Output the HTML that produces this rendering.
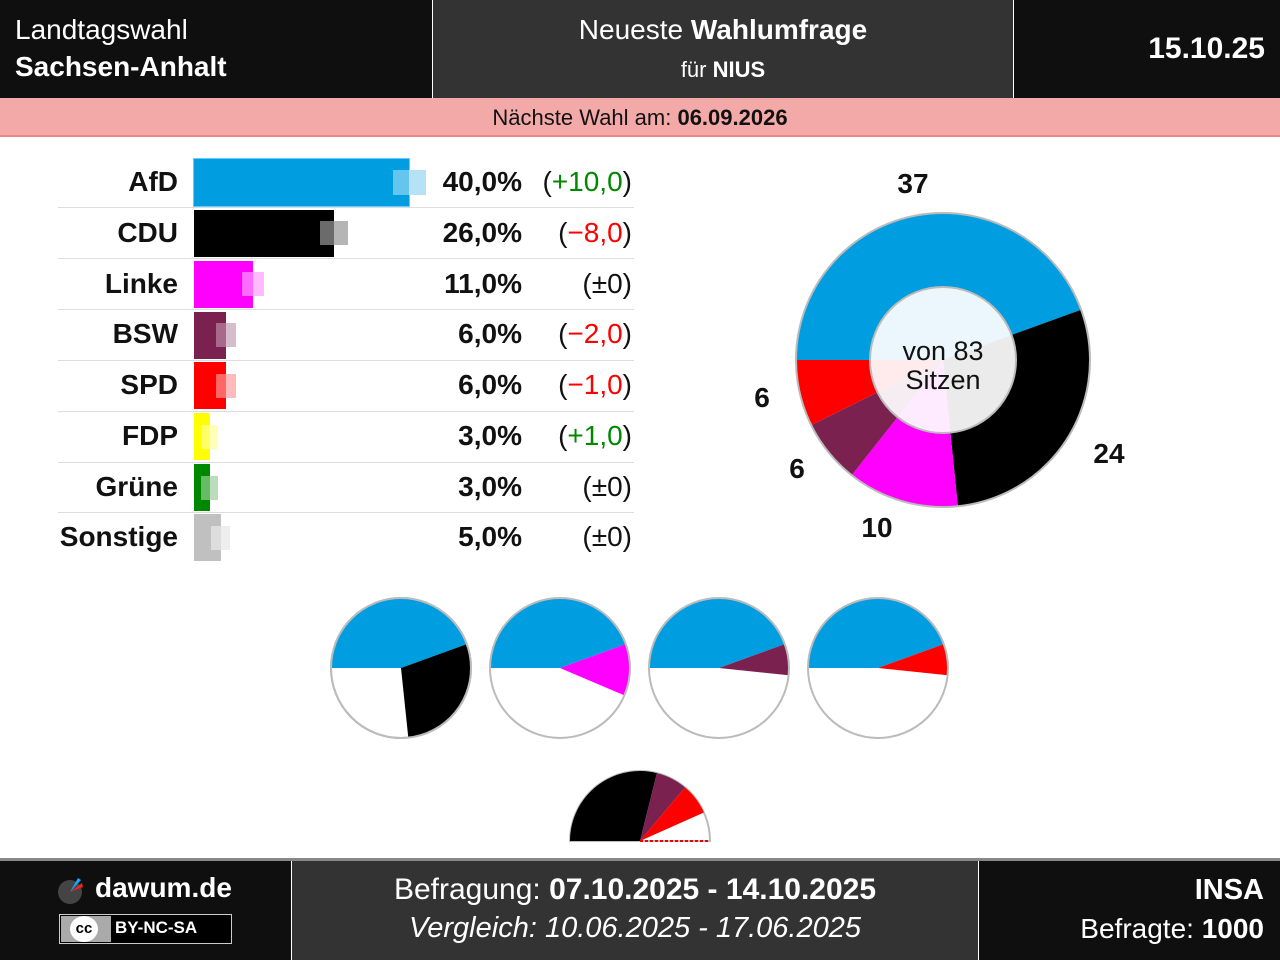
<!DOCTYPE html><html><head><meta charset="utf-8"><style>
body{margin:0;width:1280px;height:960px;background:#fff;font-family:"Liberation Sans",sans-serif;position:relative;overflow:hidden}
.a{position:absolute}
.w{color:#fff}
.lbl{position:absolute;right:1102px;font-size:28px;font-weight:bold;text-align:right;color:#111}
.pct{position:absolute;right:758px;font-size:28px;font-weight:bold;color:#111}
.chg{position:absolute;right:648px;font-size:28px;color:#111}
.hl{position:absolute;left:58px;width:576px;height:1px;background:#ddd}
</style></head><body>
<div class="a" style="left:0;top:0;width:432px;height:98px;background:#0f0f0f"></div>
<div class="a" style="left:433px;top:0;width:580px;height:98px;background:#333"></div>
<div class="a" style="left:1014px;top:0;width:266px;height:98px;background:#0f0f0f"></div>
<div class="a w" style="left:15px;top:14px;font-size:28px">Landtagswahl</div>
<div class="a w" style="left:15px;top:51px;font-size:28px;font-weight:bold">Sachsen-Anhalt</div>
<div class="a w" style="left:433px;width:580px;top:14px;font-size:28px;text-align:center">Neueste <b>Wahlumfrage</b></div>
<div class="a w" style="left:433px;width:580px;top:57px;font-size:22px;text-align:center">für <b>NIUS</b></div>
<div class="a w" style="right:15px;top:32px;font-size:30px;font-weight:bold">15.10.25</div>
<div class="a" style="left:0;top:98px;width:1280px;height:37px;background:#f4a9a9;border-bottom:2px solid #e88;"></div>
<div class="a" style="left:0;width:1280px;top:105px;font-size:22px;text-align:center;color:#111">Nächste Wahl am: <b>06.09.2026</b></div>

<div class="hl" style="top:207px"></div><div class="hl" style="top:258px"></div><div class="hl" style="top:309px"></div><div class="hl" style="top:360px"></div><div class="hl" style="top:411px"></div><div class="hl" style="top:462px"></div><div class="hl" style="top:512px"></div>

<div class="a" style="left:194px;top:159px;width:215px;height:47px;background:#009ee0;outline:1px solid #6cf"></div>
<div class="a" style="left:393px;top:170px;width:16px;height:25px;background:rgba(255,255,255,.4)"></div><div class="a" style="left:409px;top:170px;width:17px;height:25px;background:#b5e2f6"></div>
<div class="a" style="left:194px;top:210px;width:140px;height:47px;background:#000"></div>
<div class="a" style="left:320px;top:221px;width:14px;height:24px;background:#6b6b6b"></div><div class="a" style="left:334px;top:221px;width:14px;height:24px;background:#b5b5b5"></div>
<div class="a" style="left:194px;top:261px;width:59px;height:47px;background:#f0f"></div>
<div class="a" style="left:242px;top:272px;width:11px;height:24px;background:#ff6bff"></div><div class="a" style="left:253px;top:272px;width:11px;height:24px;background:#fbf"></div>
<div class="a" style="left:194px;top:312px;width:32px;height:47px;background:#7a2150"></div>
<div class="a" style="left:216px;top:323px;width:10px;height:24px;background:#a86a8a"></div><div class="a" style="left:226px;top:323px;width:10px;height:24px;background:#d7bccb"></div>
<div class="a" style="left:194px;top:362px;width:32px;height:47px;background:#f00"></div>
<div class="a" style="left:216px;top:374px;width:10px;height:24px;background:#f66"></div><div class="a" style="left:226px;top:374px;width:10px;height:24px;background:#fbb"></div>
<div class="a" style="left:194px;top:413px;width:16px;height:47px;background:#ff0"></div>
<div class="a" style="left:201px;top:425px;width:9px;height:24px;background:#ff6"></div><div class="a" style="left:210px;top:425px;width:8px;height:24px;background:#ffb"></div>
<div class="a" style="left:194px;top:464px;width:16px;height:47px;background:#080"></div>
<div class="a" style="left:201px;top:476px;width:9px;height:24px;background:#6b6"></div><div class="a" style="left:210px;top:476px;width:8px;height:24px;background:#bdb"></div>
<div class="a" style="left:194px;top:514px;width:27px;height:47px;background:#c0c0c0"></div>
<div class="a" style="left:211px;top:526px;width:10px;height:24px;background:#ddd"></div><div class="a" style="left:221px;top:526px;width:9px;height:24px;background:#eee"></div>

<div class="lbl" style="top:166px">AfD</div><div class="pct" style="top:166px">40,0%</div><div class="chg" style="top:166px">(<span style="color:#080">+10,0</span>)</div>
<div class="lbl" style="top:217px">CDU</div><div class="pct" style="top:217px">26,0%</div><div class="chg" style="top:217px">(<span style="color:#f00">−8,0</span>)</div>
<div class="lbl" style="top:268px">Linke</div><div class="pct" style="top:268px">11,0%</div><div class="chg" style="top:268px">(±0)</div>
<div class="lbl" style="top:318px">BSW</div><div class="pct" style="top:318px">6,0%</div><div class="chg" style="top:318px">(<span style="color:#f00">−2,0</span>)</div>
<div class="lbl" style="top:369px">SPD</div><div class="pct" style="top:369px">6,0%</div><div class="chg" style="top:369px">(<span style="color:#f00">−1,0</span>)</div>
<div class="lbl" style="top:420px">FDP</div><div class="pct" style="top:420px">3,0%</div><div class="chg" style="top:420px">(<span style="color:#080">+1,0</span>)</div>
<div class="lbl" style="top:471px">Grüne</div><div class="pct" style="top:471px">3,0%</div><div class="chg" style="top:471px">(±0)</div>
<div class="lbl" style="top:521px">Sonstige</div><div class="pct" style="top:521px">5,0%</div><div class="chg" style="top:521px">(±0)</div>

<svg class="a" style="left:0;top:0" width="1280" height="960">
<g transform="translate(943,360)">
<path d="M-147,0A147,147 0 0 1 138.1,-50.3L0,0Z" fill="#009ee0"/>
<path d="M138.1,-50.3A147,147 0 0 1 14.9,146.2L0,0Z" fill="#000"/>
<path d="M14.9,146.2A147,147 0 0 1 -91.3,115.2L0,0Z" fill="#f0f"/>
<path d="M-91.3,115.2A147,147 0 0 1 -131.8,65.1L0,0Z" fill="#7a2150"/>
<path d="M-131.8,65.1A147,147 0 0 1 -147,0L0,0Z" fill="#f00"/>
<circle r="147" fill="none" stroke="#bbb" stroke-width="2"/>
<circle r="73" fill="rgba(255,255,255,.92)" stroke="#bbb" stroke-width="2"/>
<text y="0" font-size="27" text-anchor="middle" fill="#111">von 83</text>
<text y="29" font-size="27" text-anchor="middle" fill="#111">Sitzen</text>
</g>
<g font-size="28" font-weight="bold" fill="#111" text-anchor="middle">
<text x="913" y="193">37</text><text x="1109" y="463">24</text><text x="877" y="537">10</text><text x="797" y="478">6</text><text x="762" y="407">6</text></g>
<g transform="translate(401,668)"><circle r="70" fill="#fff" stroke="#bbb" stroke-width="2"/><path d="M-70,0A70,70 0 0 1 65.8,-23.9L0,0Z" fill="#009ee0"/><path d="M65.8,-23.9A70,70 0 0 1 7.3,69.6L0,0Z" fill="#000"/><circle r="70" fill="none" stroke="#bbb" stroke-width="2"/></g>
<g transform="translate(560,668)"><circle r="70" fill="#fff"/><path d="M-70,0A70,70 0 0 1 65.8,-23.9L0,0Z" fill="#009ee0"/><path d="M65.8,-23.9A70,70 0 0 1 64.4,27.4L0,0Z" fill="#f0f"/><circle r="70" fill="none" stroke="#bbb" stroke-width="2"/></g>
<g transform="translate(719,668)"><circle r="70" fill="#fff"/><path d="M-70,0A70,70 0 0 1 65.8,-23.9L0,0Z" fill="#009ee0"/><path d="M65.8,-23.9A70,70 0 0 1 69.6,7.3L0,0Z" fill="#7a2150"/><circle r="70" fill="none" stroke="#bbb" stroke-width="2"/></g>
<g transform="translate(878,668)"><circle r="70" fill="#fff"/><path d="M-70,0A70,70 0 0 1 65.8,-23.9L0,0Z" fill="#009ee0"/><path d="M65.8,-23.9A70,70 0 0 1 69.6,7.3L0,0Z" fill="#f00"/><circle r="70" fill="none" stroke="#bbb" stroke-width="2"/></g>
<g transform="translate(640,841)"><path d="M-70,0A70,70 0 0 1 70,0Z" fill="#fff" stroke="#bbb" stroke-width="2"/>
<path d="M-70,0A70,70 0 0 1 16.9,-67.9L0,0Z" fill="#000"/><path d="M16.9,-67.9A70,70 0 0 1 45,-53.6L0,0Z" fill="#7a2150"/><path d="M45,-53.6A70,70 0 0 1 63.9,-28.5L0,0Z" fill="#f00"/>
<line x1="0" y1="0" x2="70" y2="0" stroke="#e00" stroke-width="2" stroke-dasharray="3,2"/></g>
</svg>

<div class="a" style="left:0;top:858px;width:1280px;height:3px;background:#888"></div>
<div class="a" style="left:0;top:861px;width:291px;height:99px;background:#0f0f0f"></div>
<div class="a" style="left:292px;top:861px;width:686px;height:99px;background:#333"></div>
<div class="a" style="left:979px;top:861px;width:301px;height:99px;background:#0f0f0f"></div>
<svg class="a" style="left:56px;top:874px" width="32" height="32"><circle cx="14" cy="18" r="12" fill="#444"/><path d="M14,18L22,4L25,6Z" fill="#1af"/><path d="M14,18L26,9L27,13Z" fill="#e22"/></svg>
<div class="a w" style="left:95px;top:872px;font-size:28px;font-weight:bold">dawum.de</div>
<div class="a" style="left:59px;top:914px;width:171px;height:28px;border:1px solid #ccc;background:#000"></div>
<div class="a" style="left:61px;top:916px;width:50px;height:26px;background:#aaa"></div>
<div class="a" style="left:70px;top:916px;width:28px;height:26px;border-radius:50%;background:#fff;font-size:15px;font-weight:bold;text-align:center;line-height:26px">cc</div>
<div class="a w" style="left:115px;top:918px;font-size:17px;font-weight:bold">BY-NC-SA</div>
<div class="a w" style="left:292px;width:686px;top:873px;font-size:30px;text-align:center">Befragung: <b>07.10.2025 - 14.10.2025</b></div>
<div class="a w" style="left:292px;width:686px;top:912px;font-size:29px;text-align:center;font-style:italic">Vergleich: 10.06.2025 - 17.06.2025</div>
<div class="a w" style="right:16px;top:874px;font-size:29px;font-weight:bold">INSA</div>
<div class="a w" style="right:16px;top:913px;font-size:28px">Befragte: <b>1000</b></div>
</body></html>
